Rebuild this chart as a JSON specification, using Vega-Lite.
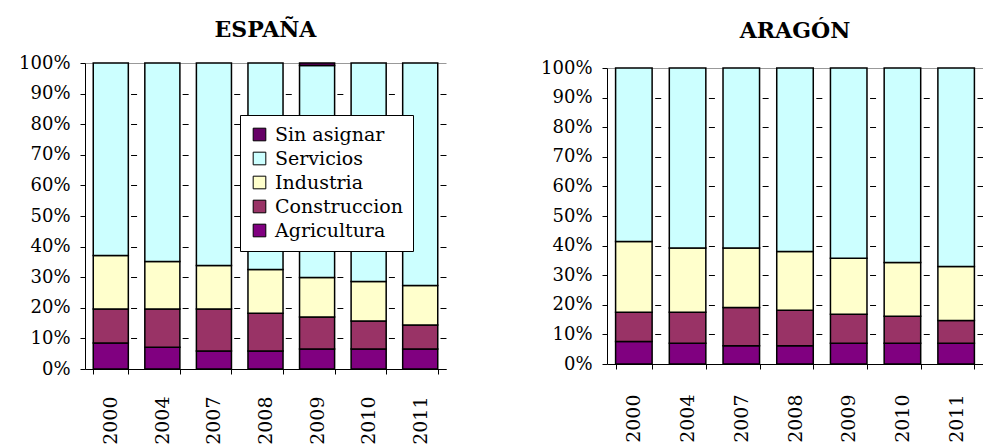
{
  "$schema": "https://vega.github.io/schema/vega-lite/v6.json",
  "padding": {"left": 18, "top": 19, "right": 0, "bottom": 0},
  "background": "white",
  "config": {
    "view": {"stroke": null},
    "font": "DejaVu Serif",
    "axis": {"labelFont": "DejaVu Serif", "labelColor": "black", "domainColor": "black", "tickColor": "black", "title": null}
  },
  "datasets": {
    "d": [
      {"region": "ESPAÑA", "year": "2000", "sector": "Agricultura", "value": 8.5},
      {"region": "ESPAÑA", "year": "2000", "sector": "Construccion", "value": 11.1},
      {"region": "ESPAÑA", "year": "2000", "sector": "Industria", "value": 17.5},
      {"region": "ESPAÑA", "year": "2000", "sector": "Servicios", "value": 62.9},
      {"region": "ESPAÑA", "year": "2004", "sector": "Agricultura", "value": 7.1},
      {"region": "ESPAÑA", "year": "2004", "sector": "Construccion", "value": 12.5},
      {"region": "ESPAÑA", "year": "2004", "sector": "Industria", "value": 15.5},
      {"region": "ESPAÑA", "year": "2004", "sector": "Servicios", "value": 64.9},
      {"region": "ESPAÑA", "year": "2007", "sector": "Agricultura", "value": 5.9},
      {"region": "ESPAÑA", "year": "2007", "sector": "Construccion", "value": 13.7},
      {"region": "ESPAÑA", "year": "2007", "sector": "Industria", "value": 14.2},
      {"region": "ESPAÑA", "year": "2007", "sector": "Servicios", "value": 66.2},
      {"region": "ESPAÑA", "year": "2008", "sector": "Agricultura", "value": 5.9},
      {"region": "ESPAÑA", "year": "2008", "sector": "Construccion", "value": 12.3},
      {"region": "ESPAÑA", "year": "2008", "sector": "Industria", "value": 14.3},
      {"region": "ESPAÑA", "year": "2008", "sector": "Servicios", "value": 67.5},
      {"region": "ESPAÑA", "year": "2009", "sector": "Agricultura", "value": 6.5},
      {"region": "ESPAÑA", "year": "2009", "sector": "Construccion", "value": 10.5},
      {"region": "ESPAÑA", "year": "2009", "sector": "Industria", "value": 12.9},
      {"region": "ESPAÑA", "year": "2009", "sector": "Servicios", "value": 69.3},
      {"region": "ESPAÑA", "year": "2009", "sector": "Sin asignar", "value": 0.8},
      {"region": "ESPAÑA", "year": "2010", "sector": "Agricultura", "value": 6.5},
      {"region": "ESPAÑA", "year": "2010", "sector": "Construccion", "value": 9.2},
      {"region": "ESPAÑA", "year": "2010", "sector": "Industria", "value": 12.9},
      {"region": "ESPAÑA", "year": "2010", "sector": "Servicios", "value": 71.4},
      {"region": "ESPAÑA", "year": "2011", "sector": "Agricultura", "value": 6.5},
      {"region": "ESPAÑA", "year": "2011", "sector": "Construccion", "value": 7.9},
      {"region": "ESPAÑA", "year": "2011", "sector": "Industria", "value": 12.9},
      {"region": "ESPAÑA", "year": "2011", "sector": "Servicios", "value": 72.7},
      {"region": "ARAGÓN", "year": "2000", "sector": "Agricultura", "value": 7.6},
      {"region": "ARAGÓN", "year": "2000", "sector": "Construccion", "value": 9.9},
      {"region": "ARAGÓN", "year": "2000", "sector": "Industria", "value": 23.9},
      {"region": "ARAGÓN", "year": "2000", "sector": "Servicios", "value": 58.6},
      {"region": "ARAGÓN", "year": "2004", "sector": "Agricultura", "value": 7.0},
      {"region": "ARAGÓN", "year": "2004", "sector": "Construccion", "value": 10.5},
      {"region": "ARAGÓN", "year": "2004", "sector": "Industria", "value": 21.7},
      {"region": "ARAGÓN", "year": "2004", "sector": "Servicios", "value": 60.8},
      {"region": "ARAGÓN", "year": "2007", "sector": "Agricultura", "value": 6.2},
      {"region": "ARAGÓN", "year": "2007", "sector": "Construccion", "value": 12.9},
      {"region": "ARAGÓN", "year": "2007", "sector": "Industria", "value": 20.1},
      {"region": "ARAGÓN", "year": "2007", "sector": "Servicios", "value": 60.8},
      {"region": "ARAGÓN", "year": "2008", "sector": "Agricultura", "value": 6.2},
      {"region": "ARAGÓN", "year": "2008", "sector": "Construccion", "value": 12.0},
      {"region": "ARAGÓN", "year": "2008", "sector": "Industria", "value": 19.8},
      {"region": "ARAGÓN", "year": "2008", "sector": "Servicios", "value": 62.0},
      {"region": "ARAGÓN", "year": "2009", "sector": "Agricultura", "value": 7.0},
      {"region": "ARAGÓN", "year": "2009", "sector": "Construccion", "value": 9.8},
      {"region": "ARAGÓN", "year": "2009", "sector": "Industria", "value": 18.9},
      {"region": "ARAGÓN", "year": "2009", "sector": "Servicios", "value": 64.3},
      {"region": "ARAGÓN", "year": "2010", "sector": "Agricultura", "value": 7.0},
      {"region": "ARAGÓN", "year": "2010", "sector": "Construccion", "value": 9.1},
      {"region": "ARAGÓN", "year": "2010", "sector": "Industria", "value": 18.2},
      {"region": "ARAGÓN", "year": "2010", "sector": "Servicios", "value": 65.7},
      {"region": "ARAGÓN", "year": "2011", "sector": "Agricultura", "value": 7.0},
      {"region": "ARAGÓN", "year": "2011", "sector": "Construccion", "value": 7.7},
      {"region": "ARAGÓN", "year": "2011", "sector": "Industria", "value": 18.2},
      {"region": "ARAGÓN", "year": "2011", "sector": "Servicios", "value": 67.1}
    ]
  },
  "bounds": "flush",
  "center": true,
  "spacing": 161,
  "resolve": {"scale": {"color": "independent", "y": "independent", "x": "independent"}},
  "hconcat": [
    {
      "width": 361,
      "height": 306,
      "title": {"text": "ESPAÑA", "fontSize": 22, "fontWeight": "bold", "font": "DejaVu Serif", "anchor": "middle", "frame": "group", "baseline": "alphabetic", "offset": -5, "color": "black"},
      "data": {"name": "d"},
      "transform": [{"filter": "datum.region === 'ESPAÑA'"}],
      "mark": {"type": "bar", "stroke": "black", "strokeWidth": 1.5},
      "encoding": {
        "x": {"field": "year", "type": "ordinal", "scale": {"paddingInner": 0.32, "paddingOuter": 0.16},
          "axis": {"labelAngle": -90, "labelFontSize": 19, "tickBand": "extent", "tickSize": 5, "labelPadding": 22, "grid": false}},
        "y": {"field": "value", "type": "quantitative", "stack": "normalize",
          "axis": {"format": "%", "values": [0, 0.1, 0.2, 0.3, 0.4, 0.5, 0.6, 0.7, 0.8, 0.9, 1], "labelFontSize": 18, "tickSize": 5, "labelPadding": 10, "grid": true,
            "gridColor": {"condition": {"test": "datum.value === 1", "value": "#999999"}, "value": "black"},
            "gridDash": {"condition": {"test": "datum.value === 1", "value": []}, "value": [6, 45.57]},
            "gridDashOffset": 6}},
        "color": {"field": "sector", "type": "nominal",
          "scale": {"domain": ["Sin asignar", "Servicios", "Industria", "Construccion", "Agricultura"], "range": ["#660066", "#CCFFFF", "#FFFFCC", "#993366", "#800080"]},
          "legend": {"title": null, "orient": "none", "legendX": 155, "legendY": 52, "padding": 10, "strokeColor": "black", "fillColor": "white",
            "symbolType": "square", "symbolSize": 160, "symbolStrokeColor": "black", "symbolStrokeWidth": 1,
            "labelFontSize": 19, "labelFont": "DejaVu Serif", "labelColor": "black", "rowPadding": 4, "labelOffset": 6}},
        "order": {"field": "sector", "sort": "ascending"}
      }
    },
    {
      "width": 376,
      "height": 296,
      "title": {"text": "ARAGÓN", "fontSize": 22, "fontWeight": "bold", "font": "DejaVu Serif", "anchor": "middle", "frame": "group", "baseline": "alphabetic", "offset": -1, "color": "black"},
      "data": {"name": "d"},
      "transform": [{"filter": "datum.region === 'ARAGÓN'"}],
      "mark": {"type": "bar", "stroke": "black", "strokeWidth": 1.5},
      "encoding": {
        "x": {"field": "year", "type": "ordinal", "scale": {"paddingInner": 0.32, "paddingOuter": 0.16},
          "axis": {"labelAngle": -90, "labelFontSize": 19, "tickBand": "extent", "tickSize": 5, "labelPadding": 25, "grid": false}},
        "y": {"field": "value", "type": "quantitative", "stack": "normalize",
          "axis": {"format": "%", "values": [0, 0.1, 0.2, 0.3, 0.4, 0.5, 0.6, 0.7, 0.8, 0.9, 1], "labelFontSize": 18, "tickSize": 5, "labelPadding": 10, "grid": true,
            "gridColor": {"condition": {"test": "datum.value === 1", "value": "#999999"}, "value": "black"},
            "gridDash": {"condition": {"test": "datum.value === 1", "value": []}, "value": [6, 47.71]},
            "gridDashOffset": 6}},
        "color": {"field": "sector", "type": "nominal",
          "scale": {"domain": ["Sin asignar", "Servicios", "Industria", "Construccion", "Agricultura"], "range": ["#660066", "#CCFFFF", "#FFFFCC", "#993366", "#800080"]},
          "legend": null},
        "order": {"field": "sector", "sort": "ascending"}
      }
    }
  ]
}
